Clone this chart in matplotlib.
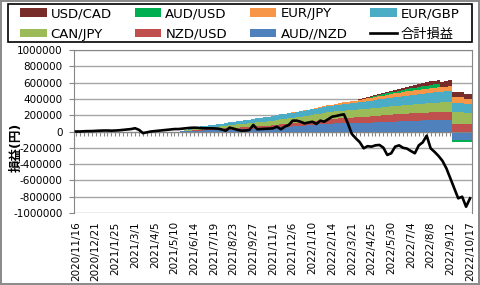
import numpy as np
import matplotlib
matplotlib.use('Agg')
from matplotlib import pyplot as plt
from matplotlib.patches import Rectangle

plt.rcParams['font.family'] = ['DejaVu Sans', 'Noto Sans CJK JP']

# weekly values, in thousands of yen (2020/11/16 .. 2022/10/17)
aud_nzd = [0, 0, 0, 0, 0, 0, 0, 0, 0, 0,
           0, 0, 0, 0, 0, 0, -5, -15, -5, 0,
           0, 0, 0, 0, 0, 0, 0, 2, 4, 6,
           8, 10, 12, 14, 15, 16, 18, 20, 22, 24,
           26, 28, 30, 32, 34, 36, 38, 40, 42, 45,
           48, 51, 54, 57, 60, 63, 66, 70, 73, 76,
           80, 84, 88, 92, 96, 98, 100, 100, 101, 102,
           103, 104, 105, 106, 108, 110, 112, 114, 116, 118,
           120, 122, 124, 126, 128, 130, 132, 134, 135, 136,
           138, 139, 140, 140, 140, 140, -105, -105, -105, -105,
           -105]
nzd_usd = [0, 0, 0, 0, 0, 0, 0, 0, 0, 0,
           0, 0, 0, 0, 0, 0, 0, 0, 0, 0,
           0, 0, 0, 0, 0, 0, 0, 2, 4, 6,
           8, 10, 11, 12, 13, 14, 15, 16, 17, 18,
           19, 20, 21, 22, 23, 24, 25, 26, 27, 28,
           30, 32, 34, 36, 38, 40, 42, 44, 45, 46,
           47, 48, 50, 52, 54, 56, 58, 60, 62, 64,
           66, 68, 70, 72, 74, 76, 78, 80, 82, 84,
           86, 88, 89, 90, 91, 92, 93, 94, 95, 96,
           97, 98, 99, 100, 100, 100, 95, 95, 95, 92,
           92]
can_jpy = [0, 0, 0, 0, 0, 0, 0, 0, 0, 0,
           0, 0, 0, 0, 0, 0, 0, 0, 0, 0,
           0, 0, 0, 0, 0, 0, 0, 3, 6, 10,
           14, 18, 20, 22, 24, 26, 28, 30, 32, 34,
           36, 38, 40, 42, 44, 46, 48, 50, 52, 54,
           56, 58, 60, 62, 64, 66, 68, 70, 72, 74,
           76, 78, 80, 82, 84, 86, 88, 90, 91, 92,
           93, 94, 95, 96, 97, 98, 99, 100, 101, 102,
           103, 104, 105, 106, 107, 108, 109, 110, 111, 112,
           113, 114, 115, 116, 117, 118, 140, 140, 140, 135,
           135]
eur_gbp = [0, 0, 0, 0, 0, 0, 0, 0, 0, 0,
           0, 0, 0, 0, 0, 0, 0, 0, 0, 0,
           0, 0, 0, 0, 0, 0, 0, 3, 8, 12,
           16, 20, 22, 24, 26, 28, 30, 32, 34, 36,
           38, 40, 42, 44, 46, 48, 50, 52, 54, 56,
           58, 60, 61, 62, 63, 64, 65, 66, 67, 68,
           69, 70, 71, 72, 74, 76, 78, 80, 82, 84,
           86, 88, 90, 92, 94, 96, 98, 100, 102, 104,
           106, 108, 110, 112, 114, 116, 118, 120, 122, 124,
           126, 128, 130, 132, 134, 135, 115, 115, 115, 105,
           105]
eur_jpy = [0, 0, 0, 0, 0, 0, 0, 0, 0, 0,
           0, 0, 0, 0, 0, 0, 0, 0, 0, 0,
           0, 0, 0, 0, 0, 0, 0, 0, 0, 0,
           0, 0, 0, 0, 0, 0, 0, 0, 0, 0,
           0, 0, 0, 0, 0, 0, 0, 0, 0, 0,
           0, 0, 0, 0, 0, 1, 2, 3, 4, 5,
           6, 7, 8, 10, 12, 14, 16, 18, 20, 22,
           24, 26, 28, 30, 32, 34, 36, 38, 40, 42,
           44, 46, 48, 50, 51, 52, 53, 54, 55, 56,
           57, 58, 59, 60, 61, 62, 70, 70, 70, 65,
           65]
aud_usd = [0, 0, 0, 0, 0, 0, 0, 0, 0, 0,
           0, 0, 0, 0, 0, 0, 0, 0, 0, 0,
           0, 0, 0, 0, 0, 0, 0, 0, 0, 0,
           0, 0, 0, 0, 0, 0, 0, 0, 0, 0,
           0, 0, 0, 0, 0, 0, 0, 0, 0, 0,
           0, 0, 0, 0, 0, 0, 0, 0, 0, 0,
           0, 0, 0, 0, 0, 0, 0, 0, 0, 0,
           0, 0, 3, 6, 8, 10, 12, 14, 16, 18,
           20, 22, 24, 26, 28, 30, 32, 34, 36, 38,
           40, 40, 40, -15, -15, -15, -25, -25, -25, -25,
           -25]
usd_cad = [0, 0, 0, 0, 0, 0, 0, 0, 0, 0,
           0, 0, 0, 0, 0, 0, 0, 0, 0, 0,
           0, 0, 0, 0, 0, 0, 0, 0, 0, 0,
           0, 0, 0, 0, 0, 0, 0, 0, 0, 0,
           0, 0, 0, 0, 0, 0, 0, 0, 0, 0,
           0, 0, 0, 0, 0, 0, 0, 0, 0, 0,
           0, 0, 0, 0, 0, 0, 0, 0, 0, 0,
           0, 0, 2, 4, 6, 8, 10, 12, 14, 16,
           18, 20, 22, 24, 26, 28, 30, 33, 36, 40,
           44, 48, 54, 62, 70, 72, 70, 70, 70, 65,
           65]
total = [0, 0, 3, 5, 5, 8, 10, 12, 12, 10,
         12, 15, 20, 25, 30, 40, 20, -20, -10, 0,
         5, 10, 15, 20, 25, 30, 30, 35, 40, 45,
         47, 45, 40, 39, 39, 38, 35, 25, 10, 47,
         35, 20, 10, 12, 18, 80, 27, 30, 33, 35,
         39, 59, 27, 60, 80, 133, 133, 120, 100, 110,
         120, 92, 133, 120, 150, 182, 190, 202, 211, 100,
         -30, -83, -130, -206, -180, -186, -170, -165, -198, -288,
         -267, -186, -170, -200, -210, -240, -267, -170, -133, -51,
         -206, -250, -300, -360, -452, -574, -697, -820, -800, -923,
         -820]

date_labels = ['2020/11/16', '2020/12/21', '2021/1/25', '2021/3/1', '2021/4/5',
               '2021/5/10', '2021/6/14', '2021/7/19', '2021/8/23', '2021/9/27',
               '2021/11/1', '2021/12/6', '2022/1/10', '2022/2/14', '2022/3/21',
               '2022/4/25', '2022/5/30', '2022/7/4', '2022/8/8', '2022/9/12',
               '2022/10/17']

# bottom of stack first
stack = [('AUD//NZD', aud_nzd, '#4F81BD'),
         ('NZD/USD', nzd_usd, '#C0504D'),
         ('CAN/JPY', can_jpy, '#9BBB59'),
         ('EUR/GBP', eur_gbp, '#4BACC6'),
         ('EUR/JPY', eur_jpy, '#F79646'),
         ('AUD/USD', aud_usd, '#00B050'),
         ('USD/CAD', usd_cad, '#772C2A')]

fig = plt.figure(figsize=(4.8, 2.85), dpi=100)
fig.patch.set_edgecolor('#8C8C8C')
fig.patch.set_linewidth(1.5)
ax = fig.add_axes([74/480, 1-213/285, 398/480, 163/285])

weeks = np.arange(len(total))
pos_base = np.zeros(len(weeks))
neg_base = np.zeros(len(weeks))
handles = {}
for name, vals, color in stack:
    v = np.array(vals) * 1000.0
    bottom = np.where(v >= 0, pos_base, neg_base)
    handles[name] = ax.bar(weeks, v, bottom=bottom, width=1.0, color=color, linewidth=0)
    pos_base = pos_base + np.where(v > 0, v, 0)
    neg_base = neg_base + np.where(v < 0, v, 0)

handles['合計損益'], = ax.plot(weeks, np.array(total) * 1000.0, color='black', lw=1.9, zorder=5)

ax.set_xlim(-0.5, 100.5)
ax.set_ylim(-1000000, 1000000)
ax.set_yticks(np.arange(-1000000, 1000001, 200000))
ax.yaxis.set_major_formatter(plt.FuncFormatter(lambda y, p: '%d' % y))
ax.tick_params(axis='y', labelsize=7.5, length=3.6, color='#868686', pad=4.5)
ax.grid(axis='y', color='#A6A6A6', lw=1)
ax.set_axisbelow(True)
for s in ['left', 'right', 'top']:
    ax.spines[s].set_color('#868686')

# category axis crosses at zero, labels at bottom
ax.spines['bottom'].set_position(('data', 0))
ax.spines['bottom'].set_color('#868686')
ax.set_xticks(weeks)
ax.tick_params(axis='x', length=3, color='#868686', labelbottom=False)
sec = ax.secondary_xaxis('bottom')
sec.spines['bottom'].set_visible(False)
sec.set_xticks(weeks[::5])
sec.set_xticklabels(date_labels, rotation=90, fontsize=7.5)
sec.tick_params(length=0, pad=6)

fig.text(16/480, 1-147/285, '損益(円)', rotation=90, fontsize=9, fontweight='bold',
         ha='center', va='center')

# legend: frame drawn separately so the inner padding can differ
fig.add_artist(Rectangle((8/480, 1-42/285), 464/480, 38/285, transform=fig.transFigure,
                         fill=False, edgecolor='black', lw=1.2))
order = ['USD/CAD', 'CAN/JPY', 'AUD/USD', 'NZD/USD', 'EUR/JPY', 'AUD//NZD', 'EUR/GBP', '合計損益']
leg = fig.legend([handles[k] for k in order], order, ncol=4, loc='upper left',
                 bbox_to_anchor=(19/480, 1-42/285, 442/480, 36/285), mode='expand',
                 fontsize=9.5, frameon=False,
                 handlelength=2.0, handleheight=0.6, labelspacing=0.55,
                 borderpad=0.1, handletextpad=0.3, borderaxespad=0)

fig.savefig('out.png', dpi=100, edgecolor=fig.get_edgecolor())
